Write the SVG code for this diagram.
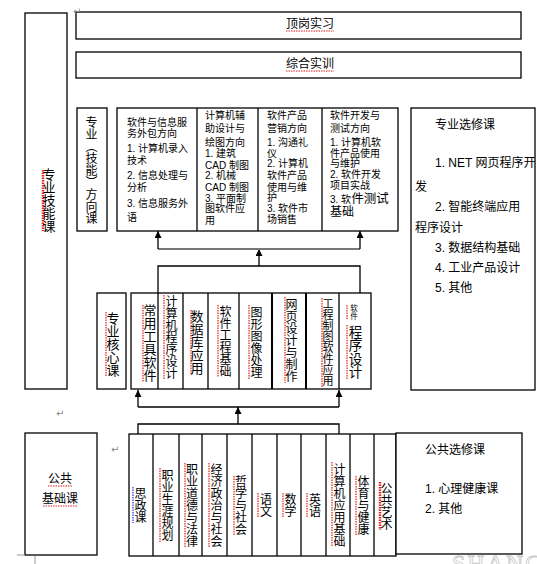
<svg xmlns="http://www.w3.org/2000/svg" width="537" height="564" viewBox="0 0 537 564">
<defs>
<style>
.b{fill:#fff;stroke:#000;stroke-width:1.3}
.t{font-family:"Liberation Sans","Noto Sans CJK SC",sans-serif;fill:#000}
.v{writing-mode:vertical-rl;text-anchor:middle}
.c{fill:none;stroke:#000;stroke-width:1.3}
.g{fill:none;stroke:#777;stroke-width:2}
.sq{fill:none;stroke:#e02020;stroke-width:1.2;stroke-dasharray:1.5 1}
.sqb{fill:none;stroke:#2030e0;stroke-width:1.2;stroke-dasharray:1.5 1}
.pm{font-family:"DejaVu Sans",sans-serif;fill:#888;font-size:10px}
.f10{font-size:10px}
.f12{font-size:12px}
.f13{font-size:13px}
</style>
<marker id="ah" viewBox="0 0 8 8" refX="8" refY="4" markerWidth="7" markerHeight="7" markerUnits="userSpaceOnUse" orient="auto">
<path d="M0,0 L8,4 L0,8 z" fill="#000"/>
</marker>
</defs>
<rect width="537" height="564" fill="#fff"/>

<g id="skill">
<rect class="b" x="25" y="13" width="42" height="376"/>
<line class="sq" x1="43" y1="170" x2="43" y2="231" style="stroke-width:2.5"/>
<text class="t v f13" x="48" y="200">专业技能课</text>
</g>

<g id="dinggang">
<rect class="b" x="76" y="12" width="445" height="27"/>
<text class="t f12" x="286" y="28">顶岗实习</text>
<line class="sq" x1="286" y1="31" x2="334" y2="31"/>
</g>

<g id="zonghe">
<rect class="b" x="76" y="52" width="445" height="26"/>
<text class="t f12" x="286" y="68">综合实训</text>
<line class="sq" x1="286" y1="71" x2="334" y2="71"/>
</g>

<g id="direction-label">
<rect class="b" x="77" y="108" width="30" height="123"/>
<text class="t v f12" x="90" y="170">专业（技能）方向课</text>
</g>

<g id="directions">
<rect class="b" x="117" y="108" width="281" height="123"/>
<line class="c" x1="197" y1="108" x2="197" y2="231"/>
<line class="c" x1="258" y1="108" x2="258" y2="231"/>
<line class="c" x1="322" y1="108" x2="322" y2="231"/>
<g class="t f10">
<text x="127" y="126">软件与信息服</text>
<text x="127" y="137">务外包方向</text>
<text x="127" y="152">1. 计算机录入</text>
<text x="127" y="164">技术</text>
<text x="127" y="179">2. 信息处理与</text>
<text x="127" y="191">分析</text>
<text x="127" y="207">3. 信息服务外</text>
<text x="127" y="221">语</text>

<text x="205" y="119">计算机辅</text>
<text x="205" y="132">助设计与</text>
<text x="205" y="146">绘图方向</text>
<text x="205" y="157">1. 建筑</text>
<text x="205" y="169">CAD 制图</text>
<text x="205" y="179">2. 机械</text>
<text x="205" y="191">CAD 制图</text>
<text x="205" y="202">3. 平面制</text>
<text x="205" y="212">图软件应</text>
<text x="205" y="224">用</text>

<text x="267" y="119">软件产品</text>
<text x="267" y="132">营销方向</text>
<text x="267" y="146">1. 沟通礼</text>
<text x="267" y="157">仪</text>
<text x="267" y="167">2. 计算机</text>
<text x="267" y="179">软件产品</text>
<text x="267" y="191">使用与维</text>
<text x="267" y="201">护</text>
<text x="267" y="212">3. 软件市</text>
<text x="267" y="223">场销售</text>

<text x="330" y="119">软件开发与</text>
<text x="330" y="132">测试方向</text>
<text x="330" y="146">1. 计算机软</text>
<text x="330" y="157">件产品使用</text>
<text x="330" y="167">与维护</text>
<text x="330" y="178">2. 软件开发</text>
<text x="330" y="189">项目实战</text>
<text x="330" y="203">3. 软<tspan style="font-size:12.5px">件测试</tspan></text>
<text x="330" y="216" class="f12">基础</text>
</g>
</g>

<g id="major-elective">
<rect class="b" x="411" y="108" width="124" height="282"/>
<g class="t f12">
<text x="435" y="129">专业选修课</text>
<text x="435" y="167">1. NET 网页程序开</text>
<text x="415" y="191">发</text>
<text x="435" y="211">2. 智能终端应用</text>
<text x="415" y="232">程序设计</text>
<text x="435" y="252">3. 数据结构基础</text>
<text x="435" y="272">4. 工业产品设计</text>
<text x="435" y="292">5. 其他</text>
</g>
</g>

<g id="core-label">
<rect class="b" x="97" y="293" width="29" height="96"/>
<line class="sq" x1="106" y1="312" x2="106" y2="377"/>
<text class="t v f13" x="112" y="344">专业核心课</text>
</g>

<g id="core-courses">
<rect class="b" x="131" y="293" width="240" height="96"/>
<line class="c" x1="158" y1="293" x2="158" y2="389"/>
<line class="c" x1="183" y1="293" x2="183" y2="389"/>
<line class="c" x1="208" y1="293" x2="208" y2="389"/>
<line class="c" x1="239" y1="293" x2="239" y2="389"/>
<line class="c" x1="272" y1="293" x2="272" y2="389" style="stroke-width:2"/>
<line class="c" x1="306" y1="293" x2="306" y2="389" style="stroke-width:2"/>
<line class="c" x1="339" y1="293" x2="339" y2="389"/>
<line class="sq" x1="143" y1="305" x2="143" y2="382"/>
<line class="sq" x1="164" y1="295" x2="164" y2="380"/>
<line class="sq" x1="191" y1="310" x2="191" y2="375"/>
<line class="sq" x1="218" y1="305" x2="218" y2="377"/>
<line class="sq" x1="249" y1="305" x2="249" y2="380"/>
<line class="sq" x1="285" y1="297" x2="285" y2="383"/>
<line class="sq" x1="322" y1="298" x2="322" y2="387"/>
<line class="sq" x1="347" y1="305" x2="347" y2="320"/>
<line class="sq" x1="347" y1="325" x2="347" y2="380"/>
<text class="t v f13" x="149" y="343">常用工具软件</text>
<text class="t v f12" x="170" y="337">计算机程序设计</text>
<text class="t v f13" x="196" y="342">数据库应用</text>
<text class="t v f12" x="224" y="341">软件工程基础</text>
<text class="t v f12" x="255" y="342">图形图像处理</text>
<text class="t v f12" x="290" y="340">网页设计与制作</text>
<text class="t v" style="font-size:11px" x="327" y="342">工程制图软件应用</text>
<text class="t v" style="font-size:7.5px" x="353" y="312">软件</text>
<text class="t v" style="font-size:13.5px" x="354" y="352">程序设计</text>
</g>

<g id="public-basic">
<rect class="b" x="25" y="433" width="72" height="122"/>
<text class="t f12" x="60" y="483" text-anchor="middle">公共</text>
<text class="t f12" x="60" y="503" text-anchor="middle">基础课</text>
<line class="sq" x1="48" y1="486" x2="72" y2="486"/>
<line class="sq" x1="43" y1="506" x2="78" y2="506"/>
</g>

<g id="public-courses">
<rect class="b" x="129" y="434" width="267" height="122"/>
<line class="c" x1="153" y1="434" x2="153" y2="556"/>
<line class="c" x1="179" y1="434" x2="179" y2="556"/>
<line class="c" x1="202" y1="434" x2="202" y2="556"/>
<line class="c" x1="227" y1="434" x2="227" y2="556"/>
<line class="c" x1="252" y1="434" x2="252" y2="556"/>
<line class="c" x1="277" y1="434" x2="277" y2="556"/>
<line class="c" x1="301" y1="434" x2="301" y2="556"/>
<line class="c" x1="326" y1="434" x2="326" y2="556"/>
<line class="c" x1="350" y1="434" x2="350" y2="556"/>
<line class="c" x1="374" y1="434" x2="374" y2="556"/>
<line class="sqb" x1="133" y1="487" x2="133" y2="523"/>
<line class="sq" x1="160" y1="468" x2="160" y2="542"/>
<line class="sq" x1="185" y1="463" x2="185" y2="547"/>
<line class="sq" x1="209" y1="463" x2="209" y2="547"/>
<line class="sq" x1="234" y1="476" x2="234" y2="535"/>
<line class="sq" x1="258" y1="493" x2="258" y2="518"/>
<line class="sq" x1="283" y1="493" x2="283" y2="518"/>
<line class="sq" x1="307" y1="493" x2="307" y2="518"/>
<line class="sq" x1="332" y1="462" x2="332" y2="547"/>
<line class="sq" x1="356" y1="476" x2="356" y2="535"/>
<line class="sq" x1="380" y1="482" x2="380" y2="530" style="stroke-width:2.5"/>
<text class="t v f12" x="139" y="505">思政课</text>
<text class="t v f12" x="166" y="505">职业生涯规划</text>
<text class="t v f12" x="190.5" y="505">职业道德与法律</text>
<text class="t v f12" x="215" y="505">经济政治与社会</text>
<text class="t v f12" x="239.5" y="505">哲学与社会</text>
<text class="t v f12" x="264.5" y="505">语文</text>
<text class="t v f12" x="289" y="505">数学</text>
<text class="t v f12" x="313.5" y="505">英语</text>
<text class="t v f12" x="338" y="505">计算机应用基础</text>
<text class="t v f12" x="362" y="505">体育与健康</text>
<text class="t v f12" x="385" y="506">公共艺术</text>
</g>

<g id="public-elective">
<rect class="b" x="396" y="433" width="126" height="121"/>
<g class="t f12">
<text x="425" y="454">公共选修课</text>
<text x="425" y="493">1. 心理健康课</text>
<text x="425" y="513">2. 其他</text>
</g>
</g>

<g id="connectors">
<path class="c" d="M158,293 V266 H360 V293"/>
<path class="c" d="M259,266 V249" marker-end="url(#ah)"/>
<path class="g" d="M158,249 H360"/>
<path class="c" d="M158,249 V231" marker-end="url(#ah)"/>
<path class="c" d="M360,249 V231" marker-end="url(#ah)"/>
<path class="c" d="M138,434 V424 H339 V434"/>
<path class="c" d="M238,424 V407" marker-end="url(#ah)"/>
<path class="c" d="M138,407 H339"/>
<path class="c" d="M138,407 V390" marker-end="url(#ah)"/>
<path class="c" d="M339,407 V390" marker-end="url(#ah)"/>
</g>

<g id="marks">
<text class="pm" x="73" y="15">↵</text>
<text class="pm" x="56" y="417">↵</text>
<text class="pm" x="111" y="453">↵</text>
<path d="M17,555 H25 M35,556 V564" stroke="#999" stroke-width="1" fill="none"/>
<text x="452" y="571" style="font-family:'Liberation Serif',serif;font-size:24px;letter-spacing:2px;fill:none;stroke:#c8c8c8;stroke-width:0.8">SHANG</text>
</g>
</svg>
